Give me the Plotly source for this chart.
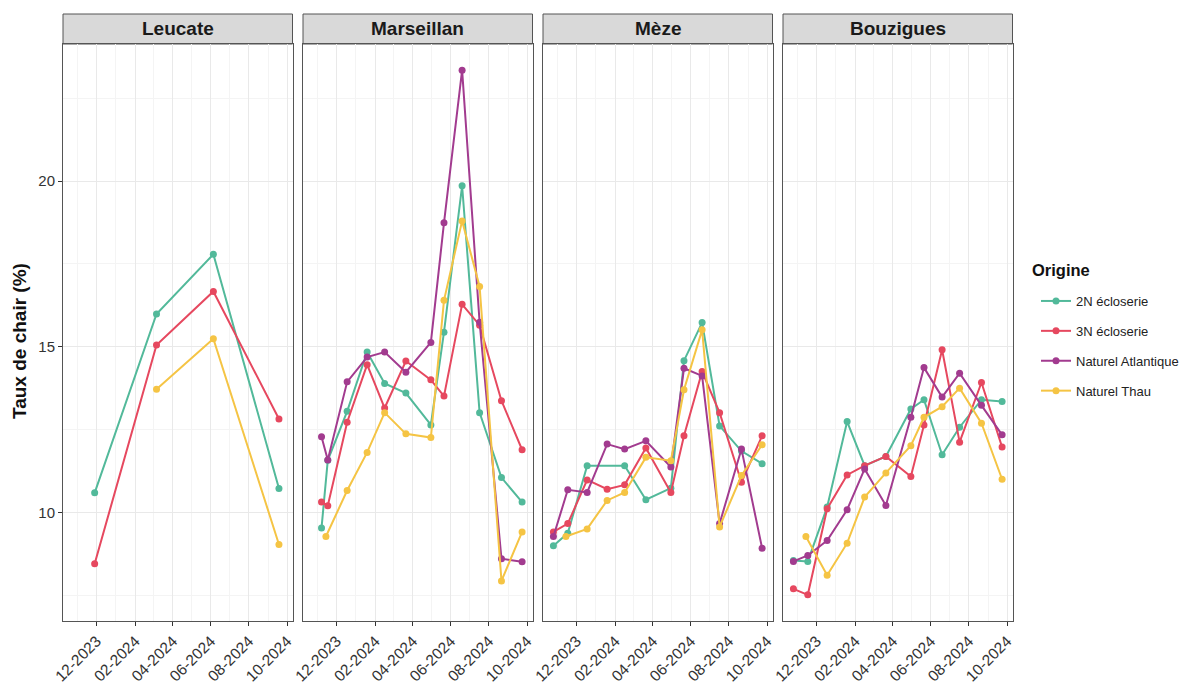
import plotly.graph_objects as go

# ---------------- data ----------------
sites = ["Leucate", "Marseillan", "Mèze", "Bouzigues"]
origins = ["2N écloserie", "3N écloserie", "Naturel Atlantique", "Naturel Thau"]
colors = ["#52B99A", "#E6485F", "#A23B8F", "#F5C444"]

leucate_dates = ["2023-11-28", "2024-03-06", "2024-06-05", "2024-09-18"]
leucate_2n = [10.59, 15.99, 17.79, 10.72]
leucate_3n = [8.45, 15.05, 16.67, 12.82]
leucate_atl = [None, None, None, None]
leucate_thau = [None, 13.72, 15.24, 9.03]

marseillan_dates = ["2023-11-07", "2023-11-14", "2023-11-17", "2023-12-18", "2024-01-19",
                    "2024-02-16", "2024-03-21", "2024-04-30", "2024-05-21", "2024-06-19",
                    "2024-07-17", "2024-08-21", "2024-09-23"]
marseillan_2n = [9.53, None, 11.57, 13.05, 14.84, 13.89, 13.60, 12.64, 15.44, 19.86, 13.01, 11.05, 10.31]
marseillan_3n = [10.31, None, 10.20, 12.72, 14.46, 13.15, 14.57, 14.00, 13.51, 16.28, 15.65, 13.37, 11.89]
marseillan_atl = [12.28, None, 11.58, 13.94, 14.69, 14.84, 14.23, 15.13, 18.74, 23.35, 15.74, 8.60, 8.51]
marseillan_thau = [None, 9.27, None, 10.66, 11.81, 13.01, 12.37, 12.26, 16.40, 18.80, 16.82, 7.93, 9.41]

meze_dates = ["2023-10-25", "2023-11-14", "2023-11-17", "2023-12-18", "2024-01-19",
              "2024-02-16", "2024-03-21", "2024-04-30", "2024-05-21", "2024-06-19",
              "2024-07-17", "2024-08-21", "2024-09-23"]
meze_2n = [8.99, None, 9.37, 11.41, None, 11.41, 10.38, 10.73, 14.58, 15.73, 12.61, 11.85, 11.47]
meze_3n = [9.41, None, 9.66, 10.98, 10.70, 10.83, 11.94, 10.60, 12.31, 14.25, 13.01, 10.91, 12.31]
meze_atl = [9.27, None, 10.68, 10.60, 12.06, 11.91, 12.16, 11.37, 14.35, 14.12, 9.66, 11.91, 8.92]
meze_thau = [None, 9.27, None, 9.50, 10.36, 10.60, 11.66, 11.56, 13.70, 15.51, 9.56, 11.11, 12.04]

bouzigues_dates = ["2023-10-25", "2023-11-14", "2023-11-17", "2023-12-18", "2024-01-19",
                   "2024-02-16", "2024-03-21", "2024-04-30", "2024-05-21", "2024-06-19",
                   "2024-07-17", "2024-08-21", "2024-09-23"]
bouzigues_2n = [8.55, None, 8.52, 10.16, 12.74, 11.41, 11.69, 13.12, 13.40, 11.74, 12.57, 13.40, 13.35]
bouzigues_3n = [7.69, None, 7.51, 10.11, 11.13, 11.41, 11.69, 11.08, 12.64, 14.91, 12.12, 13.92, 11.97]
bouzigues_atl = [8.52, None, 8.70, 9.15, 10.08, 11.31, 10.21, 12.87, 14.37, 13.48, 14.20, 13.23, 12.34]
bouzigues_thau = [None, 9.27, None, 8.10, 9.07, 10.46, 11.19, 12.01, 12.87, 13.19, 13.75, 12.69, 11.00]

site_dates = [leucate_dates, marseillan_dates, meze_dates, bouzigues_dates]
site_values = [
    [leucate_2n, leucate_3n, leucate_atl, leucate_thau],
    [marseillan_2n, marseillan_3n, marseillan_atl, marseillan_thau],
    [meze_2n, meze_3n, meze_atl, meze_thau],
    [bouzigues_2n, bouzigues_3n, bouzigues_atl, bouzigues_thau],
]

y_title = "Taux de chair (%)"
legend_title = "Origine"

# ---------------- layout geometry (pixels) ----------------
W, H = 1197, 692
panel_left = [63, 303, 543, 783]
panel_w = 229.5
top_px, bot_px = 44, 621
strip_top = 14
FONT = "Liberation Sans, Arial, sans-serif"


def fx(p):
    return p / W


def fy(p):
    return 1 - p / H


fig = go.Figure()
for j, origin in enumerate(origins):
    first = True
    for i, site in enumerate(sites):
        vals = site_values[i][j]
        xs = [d for d, v in zip(site_dates[i], vals) if v is not None]
        ys = [v for v in vals if v is not None]
        if not ys:
            continue
        fig.add_trace(go.Scatter(
            x=xs, y=ys, mode="lines+markers", name=origin, legendgroup=origin,
            showlegend=first,
            line=dict(color=colors[j], width=2),
            marker=dict(color=colors[j], size=7),
            xaxis="x" if i == 0 else f"x{i+1}",
            yaxis="y" if i == 0 else f"y{i+1}",
            hovertemplate="%{x|%d-%m-%Y}: %{y}<extra>" + origin + "</extra>",
        ))
        first = False

xrange = ["2023-10-08 08:00", "2024-10-09 16:00"]
yrange = [6.72, 24.14]

layout = dict(
    width=W, height=H,
    margin=dict(l=0, r=0, t=0, b=0, autoexpand=False),
    plot_bgcolor="white", paper_bgcolor="white",
    font=dict(family=FONT, color="#222222"),
    legend=dict(
        x=fx(1036), y=fy(286), xanchor="left", yanchor="top",
        font=dict(size=13, color="#222222"),
        tracegroupgap=10, itemwidth=30, bgcolor="rgba(0,0,0,0)",
    ),
    shapes=[], annotations=[],
)

for i, site in enumerate(sites):
    xa = "xaxis" if i == 0 else f"xaxis{i+1}"
    ya = "yaxis" if i == 0 else f"yaxis{i+1}"
    xref = "x" if i == 0 else f"x{i+1}"
    yref = "y" if i == 0 else f"y{i+1}"
    x0 = fx(panel_left[i])
    x1 = fx(panel_left[i] + panel_w)
    layout[xa] = dict(
        domain=[x0, x1], anchor=yref, type="date", range=xrange,
        tickmode="linear", tick0="2023-12-01", dtick="M2", tickformat="%m-%Y",
        tickangle=-45, ticks="outside", ticklen=4, tickcolor="#333333", tickwidth=1,
        tickfont=dict(size=15.5, color="#333333", family=FONT),
        showgrid=True, gridcolor="#E9E9E9", gridwidth=1.1,
        minor=dict(dtick="M1", tick0="2023-11-01", showgrid=True, gridcolor="#F4F4F4", gridwidth=0.8),
        showline=True, mirror=True, linecolor="#555555", linewidth=1, zeroline=False,
    )
    layout[ya] = dict(
        domain=[fy(bot_px), fy(top_px)], anchor=xref, range=yrange,
        tickmode="linear", tick0=0, dtick=5,
        ticks="outside" if i == 0 else "", ticklen=4, tickcolor="#333333",
        showticklabels=(i == 0),
        tickfont=dict(size=15, color="#333333", family=FONT),
        showgrid=True, gridcolor="#E9E9E9", gridwidth=1.1,
        minor=dict(dtick=2.5, tick0=0, showgrid=True, gridcolor="#F4F4F4", gridwidth=0.8),
        showline=True, mirror=True, linecolor="#555555", linewidth=1, zeroline=False,
    )
    if i > 0:
        layout[ya]["matches"] = "y"
    layout["shapes"].append(dict(
        type="rect", xref="paper", yref="paper", x0=x0, x1=x1,
        y0=fy(top_px), y1=fy(strip_top),
        fillcolor="#D9D9D9", line=dict(color="#555555", width=1), layer="below",
    ))
    layout["annotations"].append(dict(
        text="<b>" + site + "</b>", xref="paper", yref="paper",
        x=(x0 + x1) / 2, y=fy((top_px + strip_top) / 2), xanchor="center", yanchor="middle",
        showarrow=False, font=dict(size=19, color="#1A1A1A", family=FONT),
    ))

layout["annotations"].append(dict(
    text="<b>" + y_title + "</b>", xref="paper", yref="paper",
    x=fx(19), y=fy(341), xanchor="center", yanchor="middle", textangle=-90,
    showarrow=False, font=dict(size=19, color="#111111", family=FONT),
))
layout["annotations"].append(dict(
    text="<b>" + legend_title + "</b>", xref="paper", yref="paper",
    x=fx(1030), y=fy(270), xanchor="left", yanchor="middle",
    showarrow=False, font=dict(size=16.5, color="#111111", family=FONT),
))

fig.update_layout(**layout)
fig.write_html("out.html", config={"displayModeBar": False},
               post_script="document.body.style.margin='0';")
